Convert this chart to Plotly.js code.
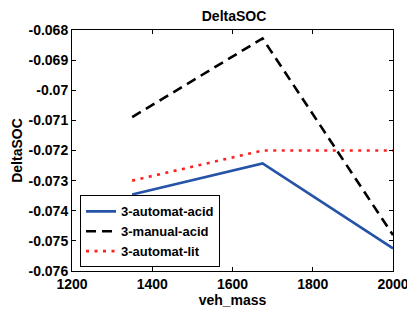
<!DOCTYPE html>
<html><head><meta charset="utf-8">
<script src="https://cdn.plot.ly/plotly-3.0.1.min.js"></script>
<style>html,body{margin:0;padding:0;background:#fff}#chart{width:407px;height:313px}</style>
</head><body><div id="chart"></div>
<script>
var vehMass = [1350, 1675, 2000];
var automatAcid = [-0.07346, -0.07243, -0.07525];
var manualAcid = [-0.07089, -0.06828, -0.07481];
var automatLit = [-0.0730, -0.0720, -0.0720];
var seriesNames = ['3-automat-acid', '3-manual-acid', '3-automat-lit'];
var xTicks = [1200, 1400, 1600, 1800, 2000];
var yTicks = [-0.076, -0.075, -0.074, -0.073, -0.072, -0.071, -0.07, -0.069, -0.068];

var fam = 'Liberation Sans, Arial, sans-serif';
var bold14 = {family: fam, size: 14, color: '#000', weight: 'bold'};
var traces = [
  {x: vehMass, y: automatAcid, name: seriesNames[0], mode: 'lines', line: {color: '#2553a8', width: 2.6, dash: 'solid'}},
  {x: vehMass, y: manualAcid, name: seriesNames[1], mode: 'lines', line: {color: '#000000', width: 2.6, dash: '10px,6px'}},
  {x: vehMass, y: automatLit, name: seriesNames[2], mode: 'lines', line: {color: '#ff2020', width: 2.6, dash: '3px,5.5px'}}
];
var axisCommon = {
  showgrid: false, zeroline: false, showline: true, mirror: 'ticks',
  linecolor: '#000', linewidth: 1, ticks: 'inside', ticklen: 4, tickcolor: '#000',
  tickfont: bold14, ticklabeloverflow: 'allow'
};
var layout = {
  width: 407, height: 313,
  margin: {l: 72, r: 14, t: 30, b: 42},
  paper_bgcolor: '#fff', plot_bgcolor: '#fff',
  font: {family: fam, size: 14, color: '#000'},
  title: {text: '<b>DeltaSOC</b>', font: {family: fam, size: 14, color: '#000'}, x: 0.575, xanchor: 'center', y: 0.95, yanchor: 'middle'},
  xaxis: Object.assign({}, axisCommon, {
    range: [1200, 2000], tickvals: xTicks, ticktext: xTicks.map(String),
    title: {text: '<b>veh_mass</b>', font: {family: fam, size: 14, color: '#000'}, standoff: 0}
  }),
  yaxis: Object.assign({}, axisCommon, {
    range: [-0.076, -0.068], tickvals: yTicks, ticktext: yTicks.map(function(v){return String(v);}),
    title: {text: '<b>DeltaSOC</b>', font: {family: fam, size: 14, color: '#000'}, standoff: 2}
  }),
  legend: {
    x: 0.025, y: 0.015, xanchor: 'left', yanchor: 'bottom',
    bgcolor: '#fff', bordercolor: '#000', borderwidth: 1,
    font: {family: fam, size: 13, color: '#000', weight: 'bold'},
    tracegroupgap: 0, itemwidth: 30
  },
  showlegend: true
};
Plotly.newPlot('chart', traces, layout, {staticPlot: true, displayModeBar: false});
</script></body></html>
